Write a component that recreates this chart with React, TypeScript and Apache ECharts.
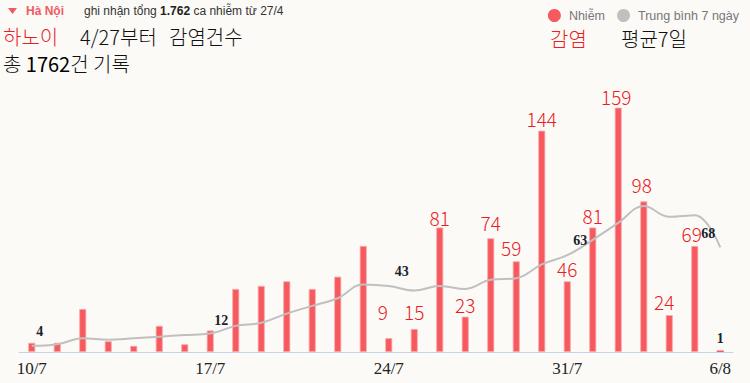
import React, { useEffect, useRef } from "react";
import * as echarts from "echarts";

const categories = [
  "10/7", "11/7", "12/7", "13/7", "14/7", "15/7", "16/7", "17/7", "18/7", "19/7",
  "20/7", "21/7", "22/7", "23/7", "24/7", "25/7", "26/7", "27/7", "28/7", "29/7",
  "30/7", "31/7", "1/8", "2/8", "3/8", "4/8", "5/8", "6/8",
];
const infections = [
  6, 6, 28, 7, 4, 17, 5, 14, 41, 43, 46, 41, 49, 69, 9, 15, 81, 23, 74, 59,
  144, 46, 81, 159, 98, 24, 69, 1,
];
const avg7 = [
  4, 5, 9, 8, 9, 10, 11, 12, 17, 19, 25, 30, 35, 44, 43, 40, 43, 41, 47, 48,
  57, 63, 73, 84, 95, 88, 89, 68,
];
// which bars carry a big red label, which average points carry a label
const redLabelFrom = 14;
const avgLabelIdx = [0, 7, 14, 21, 27];
const xTickIdx = [0, 7, 14, 21, 27];

const seriesNames = ["Nhiễm", "Trung bình 7 ngày"];

// per-label nudges (style only)
const barLabelNudge: Record<number, [number, number]> = {
  14: [-6, -14],
  15: [0, -5],
  16: [0, 2],
  18: [0, -3],
  19: [-5, -1],
  23: [-2, 1],
  24: [-2, -4],
  25: [-5, -1],
  26: [-3, 0],
};
const avgLabelNudge: Record<number, [number, number]> = {
  0: [8, -2],
  7: [11, -1],
  14: [13, -2],
  21: [13, -3],
  27: [-12, -2],
};

export default function App() {
  const ref = useRef<HTMLDivElement>(null);
  useEffect(() => {
    if (!ref.current) return;
    const chart = echarts.init(ref.current, undefined, { renderer: "svg" });
    const RED = "#f65a5e";
    const TXT_RED = "#ec1c24";
    const KFONT = "300 20px 'Noto Sans CJK KR'";
    const barData = infections.map((v, i) => {
      if (i === infections.length - 1) {
        return {
          value: v,
          itemStyle: { borderWidth: 0 },
          label: {
            show: true,
            position: "top",
            distance: 5,
            color: "#1a1f2c",
            fontFamily: "Liberation Serif",
            fontSize: 14,
            fontWeight: "bold",
          },
        };
      }
      if (i >= redLabelFrom) {
        return {
          value: v,
          label: {
            show: true,
            position: "top",
            distance: 3,
            offset: barLabelNudge[i] || [0, 0],
            color: TXT_RED,
            fontFamily: "Noto Sans CJK KR",
            fontWeight: 300,
            fontSize: 19,
          },
        };
      }
      return { value: v };
    });
    const lineData = avg7.map((v, i) =>
      avgLabelIdx.includes(i)
        ? {
            value: v,
            label: {
              show: true,
              position: "top",
              distance: 5,
              offset: avgLabelNudge[i] || [0, 0],
              color: "#1a1f2c",
              fontFamily: "Liberation Serif",
              fontSize: 14,
              fontWeight: "bold",
            },
          }
        : { value: v }
    );

    chart.setOption({
      animation: false,
      backgroundColor: "#fbfaf7",
      grid: { left: 19, right: 17, top: 60, bottom: 31 },
      legend: {
        top: 4,
        right: 6,
        itemGap: 12,
        itemWidth: 13,
        itemHeight: 13,
        icon: "circle",
        textStyle: {
          color: "#777",
          fontSize: 12.5,
          fontFamily: "Liberation Sans",
          padding: [0, 0, 0, 3],
        },
        itemStyle: { borderWidth: 0 },
        data: seriesNames,
      },
      xAxis: {
        type: "category",
        data: categories,
        boundaryGap: true,
        axisLine: { lineStyle: { color: "#c6d3ec", width: 1 } },
        axisTick: { show: false },
        axisLabel: {
          interval: (idx: number) => xTickIdx.includes(idx),
          color: "#222",
          fontFamily: "Liberation Serif",
          fontSize: 17,
          margin: 8,
        },
      },
      yAxis: {
        type: "value",
        min: 0,
        max: 190,
        show: false,
        splitLine: { show: false },
      },
      series: [
        {
          name: seriesNames[0],
          type: "bar",
          data: barData,
          barWidth: 7,
          itemStyle: { color: RED, borderColor: "#f9a9ab", borderWidth: 0.8 },
          z: 2,
        },
        {
          name: seriesNames[1],
          type: "line",
          data: lineData,
          smooth: 0.4,
          showSymbol: true,
          symbol: "circle",
          symbolSize: 0,
          lineStyle: { color: "#c0c0c0", width: 2 },
          itemStyle: { color: "#c0c0c0" },
          z: 3,
        },
      ],
      graphic: [
        {
          type: "polygon",
          shape: { points: [[8, 8], [17, 8], [12.5, 14]] },
          style: { fill: "#ef5b64" },
        },
        {
          type: "text",
          x: 26,
          y: 11,
          style: {
            text: "Hà Nội",
            fill: "#ef5b64",
            font: "bold 12px 'Liberation Sans'",
            verticalAlign: "middle",
          },
        },
        {
          type: "text",
          x: 84,
          y: 11,
          style: {
            text: "{a|ghi nhận tổng }{b|1.762}{a| ca nhiễm từ 27/4}",
            verticalAlign: "middle",
            rich: {
              a: { fill: "#333", fontSize: 12, fontFamily: "Liberation Sans" },
              b: { fill: "#222", fontSize: 12, fontFamily: "Liberation Sans", fontWeight: "bold" },
            },
          },
        },
        {
          type: "text",
          x: 3,
          y: 36,
          style: { text: "하노이", fill: TXT_RED, font: KFONT, verticalAlign: "middle" },
        },
        {
          type: "text",
          x: 80,
          y: 36,
          style: { text: "4/27부터", fill: "#111", font: KFONT, verticalAlign: "middle" },
        },
        {
          type: "text",
          x: 169,
          y: 36,
          style: { text: "감염건수", fill: "#111", font: KFONT, verticalAlign: "middle" },
        },
        {
          type: "text",
          x: 3,
          y: 63,
          style: {
            text: "총 {n|1762}건 기록",
            fill: "#111",
            font: KFONT,
            verticalAlign: "middle",
            rich: {
              n: { fill: "#000", fontSize: 20, fontFamily: "Noto Sans CJK KR", fontWeight: "normal" },
            },
          },
        },
        {
          type: "text",
          x: 550,
          y: 38,
          style: { text: "감염", fill: TXT_RED, font: KFONT, verticalAlign: "middle" },
        },
        {
          type: "text",
          x: 621,
          y: 38,
          style: { text: "평균7일", fill: "#111", font: KFONT, verticalAlign: "middle" },
        },
      ],
    });
    return () => chart.dispose();
  }, []);
  return (
    <div
      ref={ref}
      style={{ position: "absolute", left: 0, top: 0, width: 750, height: 383 }}
    />
  );
}
